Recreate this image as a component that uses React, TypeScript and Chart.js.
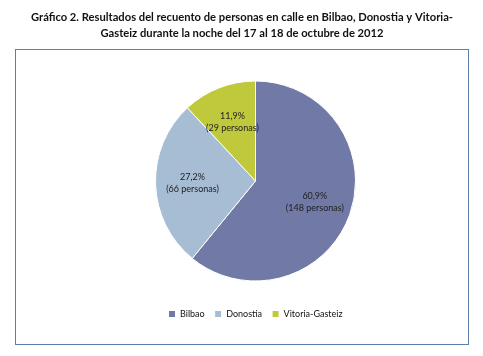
import React, { useEffect, useRef } from "react";
import { Chart, registerables } from "chart.js";

Chart.register(...registerables);

const categories = ["Bilbao", "Donostia", "Vitoria-Gasteiz"];
const personCounts = [148, 66, 29];
const percentLabels = ["60,9%", "27,2%", "11,9%"];
const personLabels = ["(148 personas)", "(66 personas)", "(29 personas)"];
const sliceColors = ["#7179a6", "#a6bdd4", "#bfc93b"];
const titleLines = [
  "Gráfico 2. Resultados del recuento de personas en calle en Bilbao, Donostia y Vitoria-",
  "Gasteiz durante la noche del 17 al 18 de octubre de 2012",
];

const FONT = "Lato, 'Open Sans', sans-serif";

const framePlugin = {
  id: "frameAndTitle",
  beforeDraw(chart: any) {
    const ctx = chart.ctx;
    ctx.save();
    ctx.fillStyle = "#ffffff";
    ctx.fillRect(0, 0, chart.width, chart.height);
    ctx.strokeStyle = "#5a7fa8";
    ctx.lineWidth = 1;
    ctx.strokeRect(15.5, 49.5, 453, 295);
    ctx.fillStyle = "#111111";
    ctx.font = `bold 11.2px ${FONT}`;
    ctx.textAlign = "center";
    ctx.textBaseline = "middle";
    titleLines.forEach((line, i) => ctx.fillText(line, 242, 17.5 + i * 16));
    ctx.restore();
  },
};

const sliceLabelPlugin = {
  id: "sliceLabels",
  afterDatasetsDraw(chart: any) {
    const ctx = chart.ctx;
    const meta = chart.getDatasetMeta(0);
    ctx.save();
    ctx.fillStyle = "#222222";
    ctx.font = `9px ${FONT}`;
    ctx.textAlign = "center";
    ctx.textBaseline = "middle";
    meta.data.forEach((arc: any, i: number) => {
      const { x, y, startAngle, endAngle, outerRadius } = arc.getProps(
        ["x", "y", "startAngle", "endAngle", "outerRadius"],
        true
      );
      const mid = (startAngle + endAngle) / 2;
      const r = outerRadius * 0.63;
      const cx = x + Math.cos(mid) * r;
      const cy = y + Math.sin(mid) * r;
      ctx.fillText(percentLabels[i], cx, cy - 6);
      ctx.fillText(personLabels[i], cx, cy + 6);
    });
    ctx.restore();
  },
};

export default function App() {
  const canvasRef = useRef<HTMLCanvasElement | null>(null);

  useEffect(() => {
    if (!canvasRef.current) return;
    const chart = new Chart(canvasRef.current, {
      type: "pie",
      data: {
        labels: categories,
        datasets: [
          {
            data: personCounts,
            backgroundColor: sliceColors,
            borderColor: "#ffffff",
            borderWidth: 1,
            radius: 100,
          } as any,
        ],
      },
      options: {
        responsive: false,
        animation: false,
        layout: { padding: { top: 62.5, left: 28, right: 0, bottom: 27.5 } },
        plugins: {
          title: { display: false },
          tooltip: { enabled: false },
          legend: {
            display: true,
            position: "bottom",
            labels: {
              boxWidth: 7,
              boxHeight: 7,
              padding: 10,
              color: "#111111",
              font: { family: FONT, size: 9 },
            },
          },
        },
      },
      plugins: [framePlugin, sliceLabelPlugin],
    });
    return () => chart.destroy();
  }, []);

  return (
    <div style={{ position: "fixed", left: 0, top: 0, width: 483, height: 356, background: "#fff" }}>
      <canvas ref={canvasRef} width={483} height={356} style={{ display: "block" }} />
    </div>
  );
}
